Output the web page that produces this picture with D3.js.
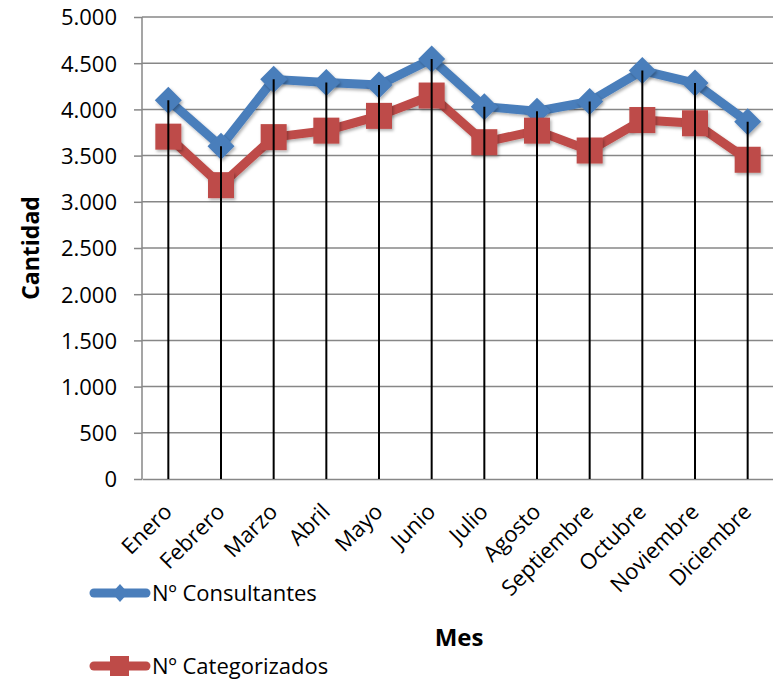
<!DOCTYPE html>
<html>
<head>
<meta charset="utf-8">
<script src="https://cdn.jsdelivr.net/npm/d3@7"></script>
<style>
  html, body { margin: 0; padding: 0; background: #fff; }
  svg { display: block; font-family: "Open Sans", "Noto Sans", sans-serif; }
</style>
</head>
<body>
<svg id="chart" width="773" height="680"></svg>
<script>
const months = ["Enero","Febrero","Marzo","Abril","Mayo","Junio","Julio","Agosto","Septiembre","Octubre","Noviembre","Diciembre"];
const consultantes = [4100, 3600, 4325, 4290, 4265, 4545, 4030, 3980, 4085, 4420, 4285, 3865];
const categorizados = [3705, 3180, 3700, 3770, 3930, 4150, 3645, 3770, 3555, 3885, 3850, 3455];
const yTicks = [0, 500, 1000, 1500, 2000, 2500, 3000, 3500, 4000, 4500, 5000];
const seriesNames = ["Nº Consultantes", "Nº Categorizados"];
const yTitle = "Cantidad";
const xTitle = "Mes";

const blue = "#4A7EBB", red = "#BE4B48";
const svg = d3.select("#chart");

const defs = svg.append("defs");
const f = defs.append("filter").attr("id","sh").attr("x","-30%").attr("y","-30%").attr("width","160%").attr("height","160%");
f.append("feDropShadow").attr("dx",1.5).attr("dy",2).attr("stdDeviation",1.5).attr("flood-color","#000").attr("flood-opacity",0.3);

const x = d3.scaleBand().domain(months).range([142, 774]);
const y = d3.scaleLinear().domain([0, 5000]).range([479, 17]);
const cx = m => x(m) + x.bandwidth() / 2;
const fmt = v => d3.format(",")(v).replace(/,/g, ".");

// gridlines
svg.append("g").selectAll("line").data(yTicks.filter(t => t > 0)).join("line")
  .attr("x1", 142).attr("x2", 774)
  .attr("y1", d => y(d)).attr("y2", d => y(d))
  .attr("stroke", "#878787").attr("stroke-width", 1.5);

// y axis
const yAxis = d3.axisLeft(y).tickValues(yTicks).tickSize(8).tickPadding(17).tickFormat(fmt);
const ga = svg.append("g").attr("transform", "translate(142,0)").call(yAxis);
ga.select(".domain").attr("stroke", "#878787").attr("stroke-width", 1.5).attr("d", `M0,${y(5000)}V${y(0)}`);
ga.selectAll(".tick line").attr("stroke", "#878787").attr("stroke-width", 1.5);
ga.selectAll(".tick text").attr("font-size", 22).attr("fill", "#000").attr("font-family", "Open Sans").attr("dy", "0.36em");

// x axis baseline
const xAxis = d3.axisBottom(x).tickSize(0).tickPadding(0);
const gx = svg.append("g").attr("transform", `translate(0,${y(0)})`).call(xAxis);
gx.select(".domain").attr("stroke", "#878787").attr("stroke-width", 1.5);
gx.selectAll(".tick text")
  .attr("font-size", 22).attr("fill", "#000").attr("font-family", "Open Sans")
  .attr("text-anchor", "end")
  .attr("dy", "0.78em")
  .attr("transform", "translate(-7,22) rotate(-45)");

// lines
const line = d3.line().x((d, i) => cx(months[i])).y(d => y(d));
svg.append("path").datum(consultantes).attr("d", line)
  .attr("fill", "none").attr("stroke", blue).attr("stroke-width", 9)
  .attr("stroke-linejoin", "round").attr("filter", "url(#sh)");
svg.append("g").selectAll("path").data(consultantes).join("path")
  .attr("d", (d, i) => { const X = cx(months[i]), Y = y(d), r = 13.5; return `M${X},${Y-r}L${X+r},${Y}L${X},${Y+r}L${X-r},${Y}Z`; })
  .attr("fill", blue).attr("filter", "url(#sh)");

svg.append("path").datum(categorizados).attr("d", line)
  .attr("fill", "none").attr("stroke", red).attr("stroke-width", 9)
  .attr("stroke-linejoin", "round").attr("filter", "url(#sh)");
svg.append("g").selectAll("rect").data(categorizados).join("rect")
  .attr("x", (d, i) => cx(months[i]) - 13).attr("y", d => y(d) - 13)
  .attr("width", 26).attr("height", 26)
  .attr("fill", red).attr("filter", "url(#sh)");

// drop lines
svg.append("g").selectAll("line").data(months).join("line")
  .attr("x1", m => cx(m)).attr("x2", m => cx(m))
  .attr("y1", (m, i) => y(Math.max(consultantes[i], categorizados[i])))
  .attr("y2", y(0))
  .attr("stroke", "#000").attr("stroke-width", 2);

// axis titles
svg.append("text").attr("transform", "translate(39,248) rotate(-90)")
  .attr("text-anchor", "middle").attr("font-weight", "bold").attr("font-size", 23).text(yTitle);
svg.append("text").attr("x", 459).attr("y", 646)
  .attr("text-anchor", "middle").attr("font-weight", "bold").attr("font-size", 24).text(xTitle);

// legend
const leg = [{ name: seriesNames[0], color: blue, y: 593, shape: "diamond" },
             { name: seriesNames[1], color: red, y: 666, shape: "square" }];
leg.forEach(l => {
  svg.append("line").attr("x1", 94).attr("x2", 146).attr("y1", l.y).attr("y2", l.y)
    .attr("stroke", l.color).attr("stroke-width", 9).attr("stroke-linecap", "round");
  if (l.shape === "diamond") {
    svg.append("path").attr("d", `M120,${l.y-9}L128,${l.y}L120,${l.y+9}L112,${l.y}Z`).attr("fill", l.color);
  } else {
    svg.append("rect").attr("x", 110).attr("y", l.y - 10).attr("width", 19).attr("height", 20).attr("fill", l.color);
  }
  svg.append("text").attr("x", 152).attr("y", l.y + 8).attr("font-size", 22).attr("fill", "#000").text(l.name);
});
</script>
</body>
</html>
